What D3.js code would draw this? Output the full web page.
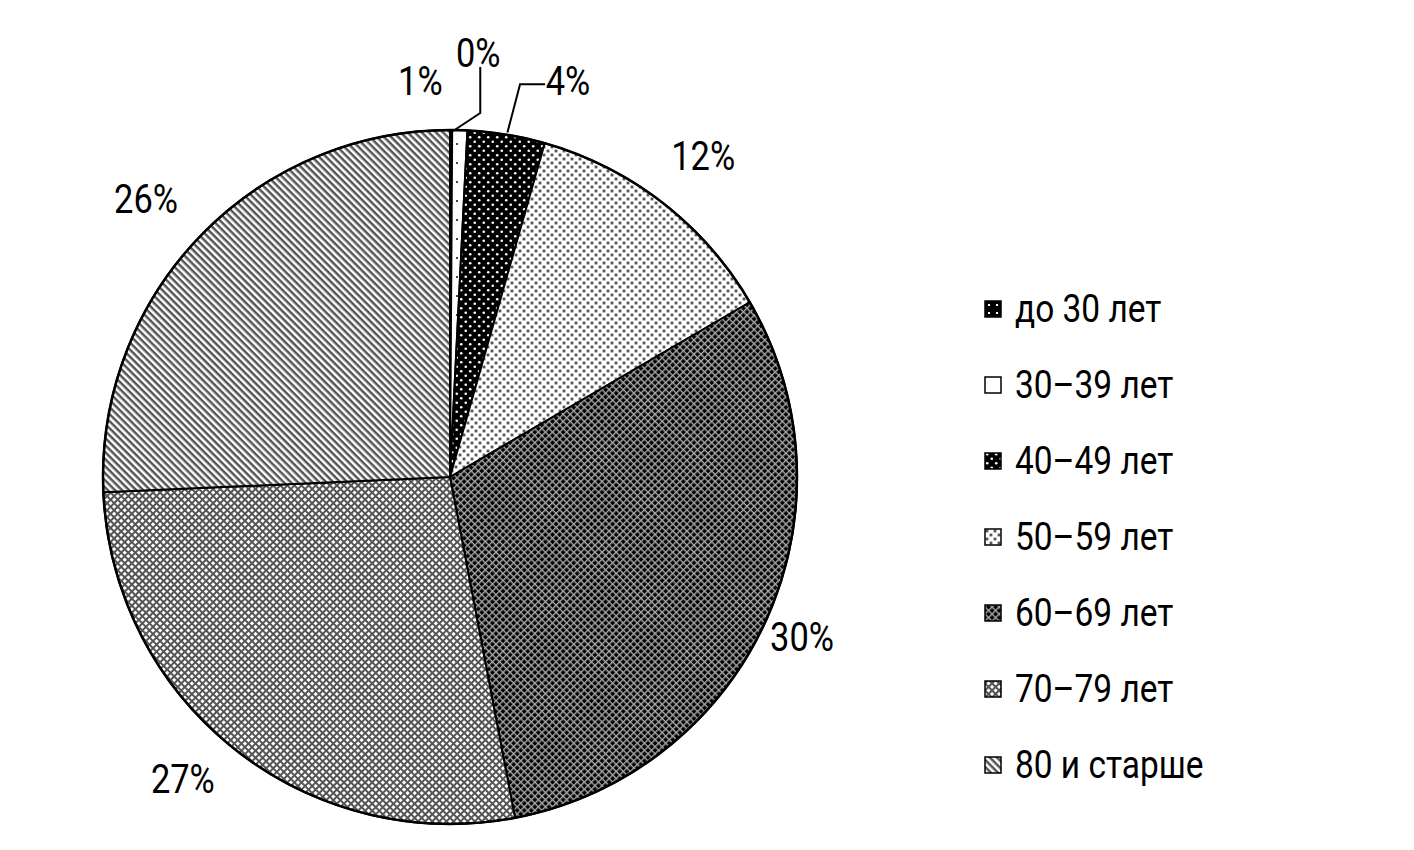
<!DOCTYPE html>
<html>
<head>
<meta charset="utf-8">
<script src="https://cdn.jsdelivr.net/npm/d3@7"></script>
<style>
  html, body { margin: 0; padding: 0; background: #fff; }
  svg { display: block; }
  text { font-family: Roboto, "DejaVu Sans Condensed", sans-serif; fill: #000; }
</style>
</head>
<body>
<svg id="chart" width="1414" height="850"></svg>
<script>
// ---- data ----
const categories = ["до 30 лет", "30–39 лет", "40–49 лет", "50–59 лет", "60–69 лет", "70–79 лет", "80 и старше"];
const values = [0.1, 0.7, 3.6, 12.2, 30.4, 27.3, 25.7];
const labels = ["0%", "1%", "4%", "12%", "30%", "27%", "26%"];

// ---- layout ----
const W = 1414, H = 850;
const cx = 450, cy = 477, R = 347;
const labelR = 400;
const SX = 0.84; // horizontal condensation of the text

const svg = d3.select("#chart");
const defs = svg.append("defs");

// ---- patterns ----
function pat(id, w, h, rot) {
  const p = defs.append("pattern").attr("id", id)
    .attr("patternUnits", "userSpaceOnUse")
    .attr("width", w).attr("height", h);
  if (rot) p.attr("patternTransform", `rotate(${rot})`);
  return p;
}
{ const p = pat("p0", 8, 8);
  p.append("rect").attr("width", 8).attr("height", 8).attr("fill", "#000");
  p.append("rect").attr("x", 3).attr("y", 3).attr("width", 2).attr("height", 2).attr("fill", "#fff"); }
{ const p = pat("p1", 14, 19);
  p.append("rect").attr("width", 14).attr("height", 19).attr("fill", "#fff");
  p.append("rect").attr("x", 6).attr("y", 8).attr("width", 2).attr("height", 2).attr("fill", "#444"); }
{ const p = pat("p2", 9, 9);
  p.append("rect").attr("width", 9).attr("height", 9).attr("fill", "#000");
  p.append("circle").attr("cx", 2.25).attr("cy", 2.25).attr("r", 1.3).attr("fill", "#fff");
  p.append("circle").attr("cx", 6.75).attr("cy", 6.75).attr("r", 1.3).attr("fill", "#fff"); }
{ const p = pat("p3", 8, 8);
  p.append("rect").attr("width", 8).attr("height", 8).attr("fill", "#fff");
  p.append("rect").attr("x", 0.6).attr("y", 0.6).attr("width", 2.8).attr("height", 2.8).attr("fill", "#555");
  p.append("rect").attr("x", 4.6).attr("y", 4.6).attr("width", 2.8).attr("height", 2.8).attr("fill", "#555"); }
{ const s = 5;
  const p = pat("p4", s, s, 45);
  p.append("rect").attr("width", s).attr("height", s).attr("fill", "#000");
  p.append("rect").attr("x", 0).attr("y", 0).attr("width", s).attr("height", 1.4).attr("fill", "#a8a8a8");
  p.append("rect").attr("x", 0).attr("y", 0).attr("width", 1.4).attr("height", s).attr("fill", "#a8a8a8"); }
{ const s = 5;
  const p = pat("p5", s, s, 45);
  p.append("rect").attr("width", s).attr("height", s).attr("fill", "#fff");
  p.append("rect").attr("x", 0).attr("y", 0).attr("width", s).attr("height", 2.0).attr("fill", "#555");
  p.append("rect").attr("x", 0).attr("y", 0).attr("width", 2.0).attr("height", s).attr("fill", "#555"); }
{ const p = pat("p6", 10, 5, 45);
  p.append("rect").attr("width", 10).attr("height", 5).attr("fill", "#fff");
  p.append("rect").attr("x", 0).attr("y", 0).attr("width", 10).attr("height", 2.5).attr("fill", "#555"); }

const fills = categories.map((c, i) => `url(#p${i})`);
const color = d3.scaleOrdinal().domain(categories).range(fills);

// ---- pie ----
const pie = d3.pie().sort(null).value(d => d.v);
const data = categories.map((c, i) => ({ c, v: values[i], l: labels[i] }));
const arcs = pie(data);
const arc = d3.arc().innerRadius(0).outerRadius(R);
const labelArc = d3.arc().innerRadius(labelR).outerRadius(labelR);
const edgeArc = d3.arc().innerRadius(R).outerRadius(R);

const g = svg.append("g").attr("transform", `translate(${cx},${cy})`);
g.selectAll("path.slice").data(arcs).join("path")
  .attr("class", "slice")
  .attr("d", arc)
  .attr("fill", d => color(d.data.c))
  .attr("stroke", "#000")
  .attr("stroke-width", 2)
  .attr("stroke-linejoin", "round");
g.append("circle").attr("r", R).attr("fill", "none").attr("stroke", "#000").attr("stroke-width", 2.5);

// ---- labels ----
const labelOffsets = { 0: [27, -24], 1: [-41, 4], 2: [53, -1], 3: [8, -5], 4: [-12, -6], 5: [-19, -12], 6: [-15, -2] };
arcs.forEach((a, i) => {
  const [x, y] = labelArc.centroid(a);
  const off = labelOffsets[i] || [0, 0];
  a.lx = x + off[0]; a.ly = y + off[1];
});
g.selectAll("text.lbl").data(arcs).join("text")
  .attr("class", "lbl")
  .attr("transform", d => `translate(${d.lx},${d.ly}) scale(${SX},1)`)
  .attr("text-anchor", "middle")
  .attr("dominant-baseline", "central")
  .attr("font-size", 41)
  .text(d => d.data.l);

// leader lines for 0% and 4%
const line = d3.line();
{
  const a = arcs[0];
  const [ex, ey] = edgeArc.centroid(a);
  const pts = [[ex + 2, ey + 1], [a.lx + 2, ey - 17], [a.lx + 2, a.ly + 38 - 24]];
  g.append("path").attr("d", line(pts)).attr("fill", "none").attr("stroke", "#000").attr("stroke-width", 2);
}
{
  const a = arcs[2];
  const [ex, ey] = edgeArc.centroid(a);
  const pts = [[ex + 1, ey - 2], [a.lx - 48, a.ly + 3], [a.lx - 23, a.ly + 3]];
  g.append("path").attr("d", line(pts)).attr("fill", "none").attr("stroke", "#000").attr("stroke-width", 2);
}

// ---- legend ----
const legX = 985, legY0 = 309, legStep = 76, sw = 16;
const leg = svg.append("g");
const rows = leg.selectAll("g").data(categories).join("g")
  .attr("transform", (d, i) => `translate(${legX},${legY0 + i * legStep})`);
rows.append("rect")
  .attr("x", 0).attr("y", -sw / 2).attr("width", sw).attr("height", sw)
  .attr("fill", d => color(d)).attr("stroke", "#000").attr("stroke-width", 1.5);
rows.append("text")
  .attr("transform", `translate(30,0) scale(0.88,1)`)
  .attr("dominant-baseline", "central")
  .attr("font-size", 38)
  .text(d => d);
</script>
</body>
</html>
